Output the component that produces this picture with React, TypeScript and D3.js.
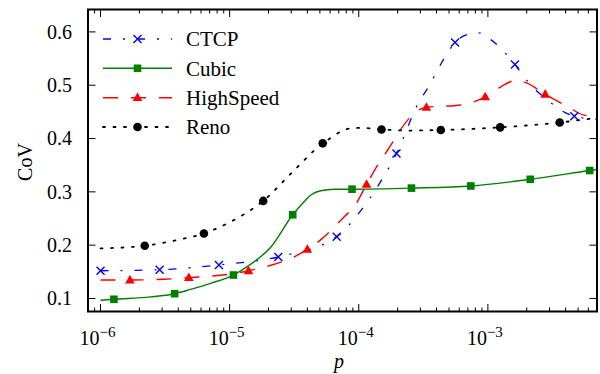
import React from "react";
import * as d3 from "d3";

// ---------- data ----------
const xDomain = [8e-7, 7e-3];
const yDomain = [0.0756, 0.642];
const yTicks = [0.1, 0.2, 0.3, 0.4, 0.5, 0.6];
const xMajorTicks = [1e-6, 1e-5, 1e-4, 1e-3];
const xTickExponents = ["−6", "−5", "−4", "−3"];
const seriesNames = ["CTCP", "Cubic", "HighSpeed", "Reno"];

const ctcpP = [1e-6, 2.87e-6, 8.26e-6, 2.38e-5, 6.75e-5, 9.8e-5, 1.4e-4, 1.96e-4, 2.93e-4, 3.41e-4, 4.58e-4, 5.57e-4, 7.16e-4, 8.5e-4, 1.06e-3, 1.26e-3, 1.62e-3, 1.86e-3, 2.28e-3, 2.9e-3, 3.68e-3, 4.67e-3, 7e-3];
const ctcpV = [0.152, 0.154, 0.163, 0.178, 0.216, 0.257, 0.31, 0.372, 0.469, 0.494, 0.55, 0.58, 0.596, 0.598, 0.585, 0.569, 0.539, 0.519, 0.494, 0.472, 0.453, 0.442, 0.436];
const ctcpMarkP = [1e-6, 2.87e-6, 8.26e-6, 2.38e-5, 6.75e-5, 1.96e-4, 5.57e-4, 1.62e-3, 4.67e-3];
const ctcpMarkV = [0.152, 0.154, 0.163, 0.178, 0.216, 0.372, 0.58, 0.539, 0.442];

const cubicP = [1e-6, 1.27e-6, 2.44e-6, 3.75e-6, 4.98e-6, 7.12e-6, 1.07e-5, 1.45e-5, 2.08e-5, 3.08e-5, 3.77e-5, 4.25e-5, 5.07e-5, 6.44e-5, 8.87e-5, 2.56e-4, 7.38e-4, 2.13e-3, 6.14e-3, 7e-3];
const cubicV = [0.0966, 0.0985, 0.103, 0.109, 0.117, 0.1285, 0.144, 0.164, 0.196, 0.257, 0.2815, 0.294, 0.302, 0.305, 0.305, 0.307, 0.311, 0.3235, 0.34, 0.342];
const cubicMarkP = [1.27e-6, 3.75e-6, 1.07e-5, 3.08e-5, 8.87e-5, 2.56e-4, 7.38e-4, 2.13e-3, 6.14e-3];
const cubicMarkV = [0.0985, 0.109, 0.144, 0.257, 0.305, 0.307, 0.311, 0.3235, 0.34];

const hsP = [1e-6, 1.69e-6, 4.83e-6, 1.4e-5, 4.0e-5, 5.07e-5, 7.69e-5, 9.2e-5, 1.15e-4, 1.4e-4, 1.67e-4, 2.53e-4, 3.12e-4, 3.34e-4, 6.18e-4, 9.53e-4, 1.26e-3, 1.65e-3, 1.97e-3, 2.78e-3, 4.15e-3, 5.55e-3, 7e-3];
const hsV = [0.1347, 0.1347, 0.139, 0.152, 0.192, 0.21, 0.253, 0.272, 0.314, 0.35, 0.378, 0.441, 0.457, 0.4585, 0.463, 0.478, 0.497, 0.509, 0.505, 0.483, 0.46, 0.444, 0.442];
const hsMarkP = [1.69e-6, 4.83e-6, 1.4e-5, 4.0e-5, 1.15e-4, 3.34e-4, 9.53e-4, 2.78e-3];
const hsMarkV = [0.1347, 0.139, 0.152, 0.192, 0.314, 0.4585, 0.478, 0.483];

const renoP = [1e-6, 2.2e-6, 3.93e-6, 6.32e-6, 1.02e-5, 1.82e-5, 3.15e-5, 5.26e-5, 6.25e-5, 7.25e-5, 8.67e-5, 1.04e-4, 1.5e-4, 2.53e-4, 4.32e-4, 1.245e-3, 3.6e-3, 7e-3];
const renoV = [0.194, 0.199, 0.2097, 0.222, 0.244, 0.283, 0.34, 0.391, 0.403, 0.413, 0.419, 0.42, 0.417, 0.415, 0.416, 0.421, 0.43, 0.439];
const renoMarkP = [2.2e-6, 6.32e-6, 1.82e-5, 5.26e-5, 1.5e-4, 4.32e-4, 1.245e-3, 3.6e-3];
const renoMarkV = [0.199, 0.222, 0.283, 0.391, 0.417, 0.416, 0.421, 0.43];

// ---------- layout / style ----------
const W = 600;
const H = 374;
const L = 88, R = 597, T = 9.5, B = 311.5;
const FONT = '"Liberation Serif", "Times New Roman", serif';

type Marker = "x" | "square" | "triangle" | "circle";
const styles: { color: string; dash: string; width: number; marker: Marker }[] = [
  { color: "#0000ff", dash: "8,12,2,12", width: 1.3, marker: "x" },
  { color: "#008000", dash: "", width: 1.4, marker: "square" },
  { color: "#ff0000", dash: "15,13", width: 1.4, marker: "triangle" },
  { color: "#000000", dash: "2,8.5", width: 1.8, marker: "circle" },
];

const lines = [
  { p: ctcpP, v: ctcpV, mp: ctcpMarkP, mv: ctcpMarkV },
  { p: cubicP, v: cubicV, mp: cubicMarkP, mv: cubicMarkV },
  { p: hsP, v: hsV, mp: hsMarkP, mv: hsMarkV },
  { p: renoP, v: renoV, mp: renoMarkP, mv: renoMarkV },
];

function MarkerShape({ kind, x, y, color }: { kind: Marker; x: number; y: number; color: string }) {
  if (kind === "x")
    return (
      <path d={`M${x - 4},${y - 4}L${x + 4},${y + 4}M${x - 4},${y + 4}L${x + 4},${y - 4}`} stroke={color} strokeWidth={1.4} fill="none" />
    );
  if (kind === "square") return <rect x={x - 3.8} y={y - 3.8} width={7.6} height={7.6} fill={color} />;
  if (kind === "triangle")
    return <path d={`M${x},${y - 5.2}L${x + 4.8},${y + 3.4}L${x - 4.8},${y + 3.4}Z`} fill={color} />;
  return <circle cx={x} cy={y} r={4.3} fill={color} />;
}

export default function App() {
  const x = d3.scaleLog().domain(xDomain).range([L, R]);
  const y = d3.scaleLinear().domain(yDomain).range([B, T]);

  const lineGen = d3
    .line<[number, number]>()
    .x((d) => x(d[0]))
    .y((d) => y(d[1]))
    .curve(d3.curveMonotoneX);

  const minor: number[] = [];
  for (let k = -7; k <= -3; k++) {
    for (let m = 2; m <= 9; m++) {
      const v = m * Math.pow(10, k);
      if (v >= xDomain[0] * 0.999 && v <= xDomain[1] * 1.001) minor.push(v);
    }
  }

  const legendRows = [39, 68.3, 97.7, 127];
  const ts = { fontFamily: FONT };

  return (
    <svg width={W} height={H} style={{ position: "absolute", left: 0, top: 0, background: "#fff", fontFamily: FONT }}>
      <defs>
        <clipPath id="plotclip">
          <rect x={L} y={T} width={R - L} height={B - T} />
        </clipPath>
      </defs>
      <rect x={0} y={0} width={W} height={H} fill="#fff" />

      {/* series */}
      <g clipPath="url(#plotclip)">
        {lines.map((s, i) => (
          <path
            key={"l" + i}
            d={lineGen(s.p.map((p, j) => [p, s.v[j]] as [number, number])) || ""}
            fill="none"
            stroke={styles[i].color}
            strokeWidth={styles[i].width}
            strokeDasharray={styles[i].dash || undefined}
            strokeLinecap={i === 3 ? "round" : "butt"}
          />
        ))}
        {lines.map((s, i) =>
          s.mp.map((p, j) => (
            <MarkerShape key={`m${i}-${j}`} kind={styles[i].marker} x={x(p)} y={y(s.mv[j])} color={styles[i].color} />
          ))
        )}
      </g>

      {/* ticks */}
      <g stroke="#000" strokeWidth={1}>
        {xMajorTicks.map((t, i) => (
          <g key={"xM" + i}>
            <line x1={x(t)} x2={x(t)} y1={B} y2={B - 7.5} />
            <line x1={x(t)} x2={x(t)} y1={T} y2={T + 7.5} />
          </g>
        ))}
        {minor.map((t, i) => (
          <g key={"xm" + i}>
            <line x1={x(t)} x2={x(t)} y1={B} y2={B - 4} />
            <line x1={x(t)} x2={x(t)} y1={T} y2={T + 4} />
          </g>
        ))}
        {yTicks.map((t, i) => (
          <g key={"y" + i}>
            <line x1={L} x2={L + 7.5} y1={y(t)} y2={y(t)} />
            <line x1={R} x2={R - 7.5} y1={y(t)} y2={y(t)} />
          </g>
        ))}
      </g>

      <rect x={L} y={T} width={R - L} height={B - T} fill="none" stroke="#000" strokeWidth={2} />

      {/* y tick labels */}
      {yTicks.map((t, i) => (
        <text key={"yl" + i} style={ts} x={72} y={y(t)} dy="0.34em" textAnchor="end" fontSize={20} fill="#000">
          {d3.format(".1f")(t)}
        </text>
      ))}

      {/* x tick labels */}
      {xMajorTicks.map((t, i) => (
        <text key={"xl" + i} style={ts} x={x(t) - 3} y={345} textAnchor="middle" fontSize={20} fill="#000">
          <tspan>10</tspan>
          <tspan dy={-8} fontSize={15}>
            {xTickExponents[i]}
          </tspan>
        </text>
      ))}

      {/* axis labels */}
      <text style={ts} x={339} y={368} textAnchor="middle" fontSize={20} fontStyle="italic" fill="#000">
        p
      </text>
      <text style={ts} transform="translate(32,162) rotate(-90)" textAnchor="middle" fontSize={20} fill="#000">
        CoV
      </text>

      {/* legend */}
      {seriesNames.map((name, i) => {
        const ry = legendRows[i];
        return (
          <g key={"lg" + i}>
            <line
              x1={103}
              x2={172}
              y1={ry}
              y2={ry}
              stroke={styles[i].color}
              strokeWidth={styles[i].width}
              strokeDasharray={styles[i].dash || undefined}
              strokeLinecap={i === 3 ? "round" : "butt"}
            />
            <MarkerShape kind={styles[i].marker} x={137.5} y={ry} color={styles[i].color} />
            <text style={ts} x={186} y={ry} dy="0.35em" fontSize={21} fill="#000">
              {name}
            </text>
          </g>
        );
      })}
    </svg>
  );
}
